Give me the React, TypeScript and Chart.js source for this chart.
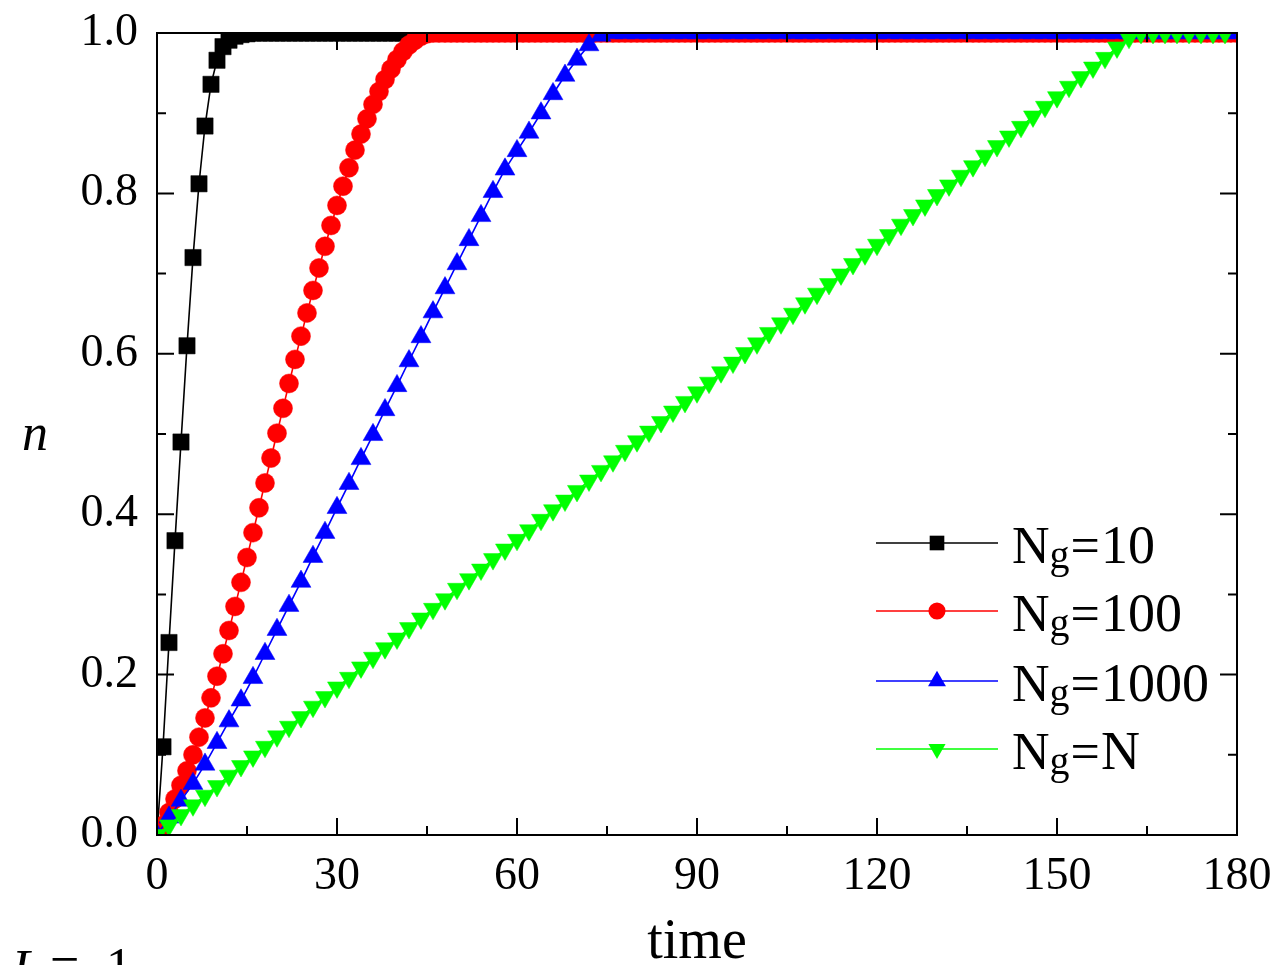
import React, { useEffect, useRef } from "react";
import { Chart, registerables } from "chart.js";

Chart.register(...registerables);

// Sampling grid of the simulation output (time units)
const range = (start: number, end: number, step: number): number[] => {
  const out: number[] = [];
  for (let t = start; t <= end; t += step) out.push(t);
  return out;
};

const TIME_STEP_1 = range(0, 180, 1);
const TIME_STEP_2 = range(0, 180, 2);
const TIME_GREEN = range(0, 178, 2);

// Fraction n of informed nodes, one array per group size
const N_G10 = [
  0, 0.11, 0.24, 0.367, 0.49, 0.61, 0.72, 0.812, 0.884, 0.936,
  0.966, 0.983, 0.991, 0.996, 0.998, 0.999,
  1, 1, 1, 1, 1, 1, 1, 1, 1, 1, 1, 1, 1, 1, 1, 1, 1, 1, 1, 1,
  1, 1, 1, 1, 1, 1, 1, 1, 1, 1, 1, 1, 1, 1, 1, 1, 1, 1, 1, 1,
  1, 1, 1, 1, 1, 1, 1, 1, 1, 1, 1, 1, 1, 1, 1, 1, 1, 1, 1, 1,
  1, 1, 1, 1, 1, 1, 1, 1, 1, 1, 1, 1, 1, 1, 1, 1, 1, 1, 1, 1,
  1, 1, 1, 1, 1, 1, 1, 1, 1, 1, 1, 1, 1, 1, 1, 1, 1, 1, 1, 1,
  1, 1, 1, 1, 1, 1, 1, 1, 1, 1, 1, 1, 1, 1, 1, 1, 1, 1, 1, 1,
  1, 1, 1, 1, 1, 1, 1, 1, 1, 1, 1, 1, 1, 1, 1, 1, 1, 1, 1, 1,
  1, 1, 1, 1, 1, 1, 1, 1, 1, 1, 1, 1, 1, 1, 1, 1, 1, 1, 1, 1,
  1, 1, 1, 1, 1,
];

const N_G100 = [
  0, 0.012, 0.028, 0.045, 0.062, 0.08, 0.1, 0.122, 0.146, 0.171,
  0.198, 0.226, 0.255, 0.285, 0.315, 0.346, 0.377, 0.408, 0.439, 0.47,
  0.501, 0.532, 0.563, 0.593, 0.622, 0.651, 0.679, 0.707, 0.734, 0.76,
  0.785, 0.809, 0.832, 0.854, 0.874, 0.893, 0.911, 0.927, 0.942, 0.955,
  0.967, 0.977, 0.985, 0.991, 0.996, 0.999,
  1, 1, 1, 1, 1, 1, 1, 1, 1, 1, 1, 1, 1, 1, 1, 1, 1, 1, 1, 1,
  1, 1, 1, 1, 1, 1, 1, 1, 1, 1, 1, 1, 1, 1, 1, 1, 1, 1, 1, 1,
  1, 1, 1, 1, 1, 1, 1, 1, 1, 1, 1, 1, 1, 1, 1, 1, 1, 1, 1, 1,
  1, 1, 1, 1, 1, 1, 1, 1, 1, 1, 1, 1, 1, 1, 1, 1, 1, 1, 1, 1,
  1, 1, 1, 1, 1, 1, 1, 1, 1, 1, 1, 1, 1, 1, 1, 1, 1, 1, 1, 1,
  1, 1, 1, 1, 1, 1, 1, 1, 1, 1, 1, 1, 1, 1, 1, 1, 1, 1, 1, 1,
  1, 1, 1, 1, 1, 1, 1, 1, 1, 1, 1, 1, 1, 1, 1,
];

const N_G1000 = [
  0, 0.022, 0.043, 0.064, 0.088, 0.115, 0.142, 0.168, 0.196, 0.226,
  0.256, 0.286, 0.316, 0.347, 0.377, 0.408, 0.438, 0.469, 0.499, 0.53,
  0.56, 0.591, 0.621, 0.652, 0.682, 0.712, 0.742, 0.772, 0.802, 0.83,
  0.853, 0.876, 0.9, 0.924, 0.947, 0.967, 0.985, 0.997,
  1, 1, 1, 1, 1, 1, 1, 1, 1, 1, 1, 1, 1, 1, 1, 1, 1, 1, 1, 1,
  1, 1, 1, 1, 1, 1, 1, 1, 1, 1, 1, 1, 1, 1, 1, 1, 1, 1, 1, 1,
  1, 1, 1, 1, 1, 1, 1, 1, 1, 1, 1, 1, 1,
];

const N_GN = [
  0, 0.012, 0.025, 0.037, 0.049, 0.061, 0.074, 0.086, 0.098, 0.11,
  0.123, 0.135, 0.147, 0.16, 0.172, 0.184, 0.196, 0.209, 0.221, 0.233,
  0.245, 0.258, 0.27, 0.282, 0.294, 0.307, 0.319, 0.331, 0.344, 0.356,
  0.368, 0.38, 0.393, 0.405, 0.417, 0.429, 0.442, 0.454, 0.466, 0.479,
  0.491, 0.503, 0.515, 0.528, 0.54, 0.552, 0.564, 0.577, 0.589, 0.601,
  0.613, 0.626, 0.638, 0.65, 0.663, 0.675, 0.687, 0.699, 0.712, 0.724,
  0.736, 0.748, 0.761, 0.773, 0.785, 0.798, 0.81, 0.822, 0.834, 0.847,
  0.859, 0.871, 0.883, 0.896, 0.908, 0.92, 0.933, 0.945, 0.957, 0.969,
  0.982, 0.994, 1, 1, 1, 1, 1, 1, 1, 1,
];

const GROUP_SIZES = ["10", "100", "1000", "N"];
const X_MINOR_TICKS = [15, 45, 75, 105, 135, 165];
const Y_MINOR_TICKS = [0.1, 0.3, 0.5, 0.7, 0.9];

const SERIF = '"Liberation Serif", "Times New Roman", serif';

type MarkerKind = "rect" | "circle" | "triangle" | "triangleDown";

const SERIES: {
  time: number[];
  values: number[];
  color: string;
  marker: MarkerKind;
  radius: number;
}[] = [
  { time: TIME_STEP_1, values: N_G10, color: "#000000", marker: "rect", radius: 11.5 },
  { time: TIME_STEP_1, values: N_G100, color: "#ff0000", marker: "circle", radius: 9.5 },
  { time: TIME_STEP_2, values: N_G1000, color: "#0000ff", marker: "triangle", radius: 11.5 },
  { time: TIME_GREEN, values: N_GN, color: "#00ff00", marker: "triangleDown", radius: 11 },
];

function drawMarker(
  ctx: CanvasRenderingContext2D,
  kind: MarkerKind,
  x: number,
  y: number,
  r: number,
  color: string
) {
  ctx.save();
  ctx.fillStyle = color;
  ctx.beginPath();
  if (kind === "rect") {
    const s = Math.SQRT1_2 * r;
    ctx.rect(x - s, y - s, 2 * s, 2 * s);
  } else if (kind === "circle") {
    ctx.arc(x, y, r, 0, Math.PI * 2);
  } else {
    const dir = kind === "triangle" ? 1 : -1;
    ctx.moveTo(x, y - dir * r);
    ctx.lineTo(x + 0.866 * r, y + dir * 0.5 * r);
    ctx.lineTo(x - 0.866 * r, y + dir * 0.5 * r);
    ctx.closePath();
  }
  ctx.fill();
  ctx.restore();
}

// Closed frame with inward major/minor ticks on all four sides
const frameTicksPlugin = {
  id: "frameTicks",
  afterDatasetsDraw(chart: any) {
    const { ctx, chartArea: a, scales } = chart;
    const xs = scales.x;
    const ys = scales.y;
    const MAJOR = 17;
    const MINOR = 9;
    ctx.save();
    ctx.strokeStyle = "#000";
    ctx.lineWidth = 2;
    ctx.beginPath();
    const xTick = (v: number, len: number) => {
      const px = xs.getPixelForValue(v);
      ctx.moveTo(px, a.bottom);
      ctx.lineTo(px, a.bottom - len);
      ctx.moveTo(px, a.top);
      ctx.lineTo(px, a.top + len);
    };
    const yTick = (v: number, len: number) => {
      const py = ys.getPixelForValue(v);
      ctx.moveTo(a.left, py);
      ctx.lineTo(a.left + len, py);
      ctx.moveTo(a.right, py);
      ctx.lineTo(a.right - len, py);
    };
    xs.ticks.forEach((t: any) => xTick(t.value, MAJOR));
    X_MINOR_TICKS.forEach((v) => xTick(v, MINOR));
    ys.ticks.forEach((t: any) => yTick(t.value, MAJOR));
    Y_MINOR_TICKS.forEach((v) => yTick(v, MINOR));
    ctx.stroke();
    ctx.strokeRect(a.left, a.top, a.right - a.left, a.bottom - a.top);
    ctx.restore();
  },
};

// Axis titles, parameter note and the line+marker legend
const annotationsPlugin = {
  id: "annotations",
  afterDraw(chart: any) {
    const { ctx, chartArea: a } = chart;
    ctx.save();
    ctx.fillStyle = "#000";
    ctx.textBaseline = "alphabetic";

    // y title
    ctx.font = `italic 52px ${SERIF}`;
    ctx.textAlign = "center";
    ctx.fillText("n", 35, 450);

    // x title
    ctx.font = `56px ${SERIF}`;
    ctx.fillText("time", (a.left + a.right) / 2, 958);

    // parameter note at the lower left
    ctx.textAlign = "left";
    ctx.font = `italic 52px ${SERIF}`;
    ctx.fillText("L", 12, 986);
    ctx.font = `52px ${SERIF}`;
    ctx.fillText("=", 50, 982);
    ctx.fillText("1", 106, 984);

    // legend
    const lineX0 = 876;
    const lineX1 = 998;
    const markX = 937;
    const textX = 1012;
    const rows = [543, 611, 681, 749];
    SERIES.forEach((s, i) => {
      const y = rows[i];
      ctx.strokeStyle = s.color;
      ctx.lineWidth = 1.6;
      ctx.beginPath();
      ctx.moveTo(lineX0, y);
      ctx.lineTo(lineX1, y);
      ctx.stroke();
      drawMarker(ctx, s.marker, markX, y, s.radius * 0.9, s.color);

      const base = y + 20;
      let x = textX;
      ctx.fillStyle = "#000";
      ctx.font = `52px ${SERIF}`;
      ctx.fillText("N", x, base);
      x += ctx.measureText("N").width;
      ctx.font = `40px ${SERIF}`;
      ctx.fillText("g", x, base + 5);
      x += ctx.measureText("g").width + 1;
      ctx.font = `52px ${SERIF}`;
      ctx.fillText("=", x, base);
      x += ctx.measureText("=").width + 1;
      ctx.font = `54px ${SERIF}`;
      ctx.fillText(GROUP_SIZES[i], x, base);
    });
    ctx.restore();
  },
};

export default function App() {
  const canvasRef = useRef<HTMLCanvasElement | null>(null);

  useEffect(() => {
    if (!canvasRef.current) return;
    const datasets = SERIES.map((s, i) => ({
      label: "Ng=" + GROUP_SIZES[i],
      data: s.time.map((t, k) => ({ x: t, y: s.values[k] })),
      borderColor: s.color,
      backgroundColor: s.color,
      borderWidth: 1.6,
      pointStyle: s.marker === "triangleDown" ? "triangle" : s.marker,
      pointRotation: s.marker === "triangleDown" ? 180 : 0,
      pointRadius: s.radius,
      pointHoverRadius: s.radius,
      pointBorderWidth: 0.5,
      pointBorderColor: s.color,
      pointBackgroundColor: s.color,
      tension: 0,
      clip: 0,
      order: SERIES.length - i,
    }));

    const chart = new Chart(canvasRef.current, {
      type: "line",
      data: { datasets: datasets as any },
      options: {
        animation: false,
        responsive: false,
        events: [],
        layout: { padding: { left: 0, right: 47, top: 33, bottom: 0 } },
        plugins: {
          legend: { display: false },
          tooltip: { enabled: false },
        },
        scales: {
          x: {
            type: "linear",
            min: 0,
            max: 180,
            grid: { display: false, drawTicks: false },
            border: { display: false },
            ticks: {
              stepSize: 30,
              autoSkip: false,
              maxRotation: 0,
              padding: 14,
              color: "#000",
              font: { family: SERIF, size: 46 },
            },
            afterFit: (scale: any) => {
              scale.height = 130;
              scale.paddingLeft = 0;
              scale.paddingRight = 0;
            },
          },
          y: {
            type: "linear",
            min: 0,
            max: 1,
            grid: { display: false, drawTicks: false },
            border: { display: false },
            ticks: {
              stepSize: 0.2,
              padding: 19,
              color: "#000",
              font: { family: SERIF, size: 46 },
              callback: (v: any) => Number(v).toFixed(1),
            },
            afterFit: (scale: any) => {
              scale.width = 157;
              scale.paddingTop = 0;
              scale.paddingBottom = 0;
            },
          },
        },
      },
      plugins: [frameTicksPlugin, annotationsPlugin],
    });

    return () => chart.destroy();
  }, []);

  return (
    <div
      style={{
        position: "absolute",
        left: 0,
        top: 0,
        width: 1284,
        height: 965,
        overflow: "hidden",
        background: "#fff",
      }}
    >
      <canvas ref={canvasRef} width={1284} height={965} />
    </div>
  );
}
